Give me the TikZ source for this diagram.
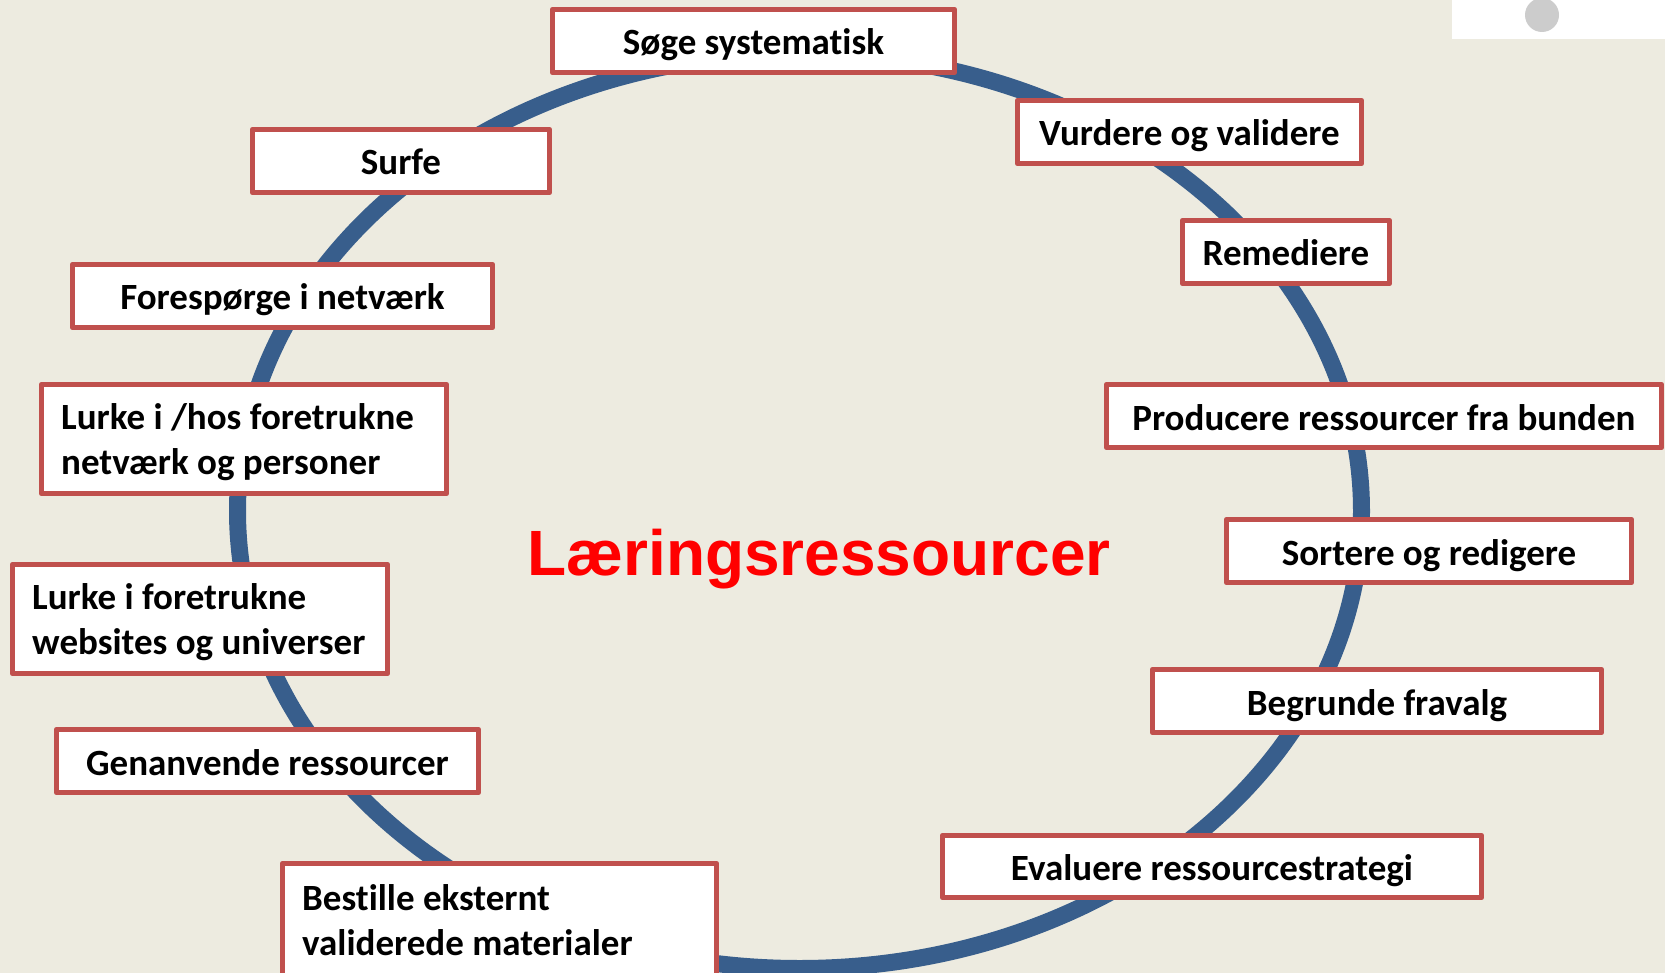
\documentclass[tikz,border=0pt]{standalone}
\usepackage{fontspec}
\setmainfont{Carlito}[Ligatures=CommonOff]
\newfontfamily\titlefont{Liberation Sans}
\definecolor{bgc}{HTML}{EDEBE0}
\definecolor{ringc}{HTML}{385E8C}
\definecolor{boxc}{HTML}{C0504D}
\tikzset{
  boxnode/.style={draw=boxc,fill=white,line width=5pt,line join=round,outer sep=0pt,font=\fontsize{37}{45}\selectfont\bfseries,text=black,inner sep=0pt},
}
\newcommand{\bx}[6]{%
  \pgfmathsetmacro{\bw}{#3-#2-2.5}%
  \pgfmathsetmacro{\bh}{#5-#4-2.5}%
  \node[boxnode,minimum width=\bw pt,minimum height=\bh pt] (#1) at ({(#2+#3)/2},{(#4+#5)/2}) {\rule[-10pt]{0pt}{48pt}#6};}
\newcommand{\bxl}[7]{%
  \pgfmathsetmacro{\bw}{#3-#2-2.5}%
  \pgfmathsetmacro{\bh}{#5-#4-2.5}%
  \node[boxnode,minimum width=\bw pt,minimum height=\bh pt] (#1) at ({(#2+#3)/2},{(#4+#5)/2}) {};
  \node[font=\fontsize{37}{45}\selectfont\bfseries,align=left,anchor=west,inner sep=0pt] (#1t) at (#2+21,#6) {#7};}
\begin{document}
\begin{tikzpicture}[x=1pt,y=-1pt]
\useasboundingbox (0,0) rectangle (1665,973);
\fill[bgc] (0,0) rectangle (1665,973);
\fill[white] (1452,0) rectangle (1665,39);
\fill[black!20] (1542,15) circle (17);
\draw[ringc,line width=17pt] (799.5,511) ellipse [x radius=562,y radius=457.5];
\bx{a}{551}{956}{8}{74}{Søge systematisk}
\bx{b}{1016}{1363}{99}{165}{Vurdere og validere}
\bx{c}{1181}{1391}{219}{285}{Remediere}
\bx{d}{1105}{1663}{383}{449}{Producere ressourcer fra bunden}
\bx{e}{1225}{1633}{518}{584}{Sortere og redigere}
\bx{f}{1151}{1603}{668}{734}{Begrunde fravalg}
\bx{g}{941}{1483}{834}{899}{Evaluere ressourcestrategi}
\bxl{h}{281}{718}{862}{985}{920}{Bestille eksternt\\validerede materialer}
\bx{i}{55}{480}{728}{794}{Genanvende ressourcer}
\bxl{j}{11}{389}{563}{675}{622}{Lurke i foretrukne\\websites og universer}
\bxl{k}{40}{448}{383}{495}{442.5}{Lurke i /hos foretrukne\\netværk og personer}
\bx{l}{71}{494}{263}{329}{Forespørge i netværk}
\bx{m}{251}{551}{128}{194}{Surfe}
\node[font=\fontsize{64}{70}\titlefont\bfseries,text=red,inner sep=0pt] (title) at (819,559) {Læringsressourcer};
\end{tikzpicture}
\end{document}
